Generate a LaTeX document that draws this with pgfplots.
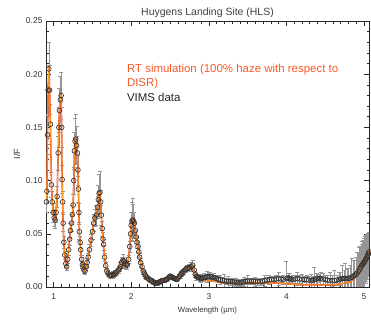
\documentclass[border=0pt]{standalone}
\usepackage{pgfplots}
\pgfplotsset{compat=1.18}
\usepackage{pgfplotstable}
\usepackage{fontspec}
\setmainfont{Liberation Sans}
\definecolor{rtred}{RGB}{245,90,40}
\definecolor{rtorange}{RGB}{250,160,40}
\definecolor{ebgray}{RGB}{150,150,150}

\pgfplotstableread{
wl if err
0.905 0.080 0.010
0.912 0.090 0.011
0.920 0.143 0.018
0.928 0.185 0.023
0.936 0.205 0.025
0.946 0.185 0.023
0.958 0.153 0.019
0.970 0.096 0.012
0.980 0.080 0.010
0.992 0.070 0.009
1.005 0.065 0.008
1.018 0.063 0.008
1.030 0.070 0.009
1.044 0.085 0.010
1.057 0.126 0.016
1.066 0.150 0.019
1.073 0.166 0.021
1.085 0.176 0.022
1.095 0.180 0.022
1.102 0.150 0.019
1.108 0.101 0.013
1.115 0.080 0.010
1.121 0.060 0.008
1.130 0.042 0.006
1.142 0.030 0.004
1.155 0.022 0.003
1.167 0.019 0.003
1.180 0.026 0.004
1.193 0.035 0.005
1.205 0.045 0.006
1.215 0.053 0.007
1.230 0.060 0.008
1.240 0.068 0.009
1.250 0.077 0.010
1.258 0.100 0.013
1.266 0.128 0.017
1.275 0.137 0.022
1.283 0.139 0.023
1.295 0.133 0.018
1.305 0.126 0.016
1.312 0.110 0.014
1.318 0.092 0.012
1.325 0.070 0.009
1.330 0.052 0.007
1.340 0.042 0.006
1.348 0.035 0.005
1.360 0.026 0.004
1.370 0.021 0.003
1.378 0.019 0.003
1.390 0.016 0.003
1.404 0.015 0.003
1.420 0.019 0.003
1.430 0.023 0.004
1.443 0.028 0.004
1.460 0.035 0.005
1.480 0.044 0.006
1.500 0.052 0.007
1.515 0.060 0.008
1.530 0.065 0.008
1.550 0.0675 0.009
1.565 0.075 0.010
1.575 0.082 0.014
1.585 0.088 0.018
1.595 0.089 0.020
1.605 0.080 0.011
1.614 0.0675 0.009
1.625 0.055 0.007
1.635 0.045 0.006
1.643 0.040 0.005
1.655 0.028 0.004
1.670 0.020 0.003
1.685 0.015 0.003
1.700 0.013 0.003
1.720 0.011 0.003
1.735 0.011 0.003
1.750 0.011 0.003
1.765 0.0115 0.003
1.780 0.012 0.003
1.795 0.013 0.003
1.810 0.014 0.003
1.835 0.016 0.003
1.848 0.0175 0.003
1.860 0.019 0.004
1.875 0.023 0.005
1.890 0.025 0.006
1.905 0.024 0.004
1.920 0.022 0.004
1.935 0.021 0.004
1.950 0.0206 0.004
1.965 0.026 0.004
1.980 0.038 0.005
1.990 0.050 0.007
1.998 0.058 0.012
2.008 0.062 0.018
2.017 0.063 0.020
2.028 0.062 0.016
2.040 0.060 0.010
2.052 0.053 0.007
2.065 0.047 0.006
2.075 0.042 0.006
2.086 0.038 0.005
2.097 0.033 0.005
2.107 0.028 0.004
2.120 0.023 0.004
2.138 0.019 0.003
2.155 0.015 0.003
2.168 0.013 0.003
2.180 0.011 0.003
2.195 0.0095 0.002
2.210 0.0085 0.002
2.228 0.0075 0.002
2.245 0.0066 0.002
2.262 0.0058 0.002
2.280 0.005 0.002
2.295 0.0042 0.002
2.310 0.0035 0.002
2.325 0.0037 0.002
2.340 0.004 0.002
2.355 0.0045 0.002
2.370 0.005 0.002
2.385 0.0055 0.002
2.400 0.006 0.002
2.420 0.0063 0.002
2.440 0.0066 0.002
2.455 0.0072 0.002
2.470 0.008 0.002
2.485 0.0092 0.002
2.500 0.0103 0.002
2.515 0.0097 0.002
2.530 0.009 0.002
2.545 0.0085 0.002
2.560 0.008 0.002
2.575 0.0075 0.002
2.590 0.007 0.002
2.605 0.0085 0.002
2.620 0.010 0.002
2.635 0.0115 0.003
2.650 0.0128 0.003
2.665 0.014 0.003
2.680 0.015 0.003
2.700 0.0165 0.003
2.720 0.0175 0.003
2.735 0.0178 0.003
2.750 0.018 0.003
2.770 0.019 0.004
2.790 0.0206 0.005
2.810 0.016 0.004
2.825 0.012 0.003
2.840 0.0097 0.003
2.855 0.0093 0.003
2.870 0.009 0.003
2.885 0.0085 0.003
2.900 0.008 0.004
2.920 0.0085 0.003
2.940 0.009 0.004
2.960 0.0093 0.003
2.980 0.0095 0.005
3.000 0.0096 0.003
3.020 0.0097 0.004
3.040 0.0093 0.003
3.060 0.009 0.004
3.080 0.0085 0.003
3.100 0.008 0.003
3.125 0.0072 0.003
3.150 0.0066 0.004
3.175 0.0063 0.003
3.200 0.006 0.006
3.225 0.0055 0.003
3.250 0.005 0.005
3.275 0.005 0.003
3.300 0.005 0.003
3.325 0.0048 0.003
3.350 0.0045 0.004
3.375 0.0042 0.003
3.400 0.004 0.003
3.425 0.0045 0.003
3.450 0.005 0.004
3.475 0.0052 0.003
3.500 0.0055 0.006
3.525 0.0056 0.003
3.550 0.0056 0.003
3.575 0.0053 0.003
3.600 0.005 0.004
3.630 0.005 0.003
3.660 0.005 0.003
3.690 0.0055 0.003
3.720 0.006 0.005
3.750 0.0065 0.003
3.780 0.007 0.004
3.810 0.007 0.003
3.840 0.007 0.003
3.870 0.0075 0.004
3.900 0.008 0.006
3.930 0.0075 0.003
3.960 0.007 0.004
4.000 0.008 0.016
4.020 0.0085 0.004
4.040 0.008 0.005
4.060 0.0075 0.003
4.080 0.007 0.004
4.110 0.0075 0.004
4.140 0.008 0.006
4.170 0.0075 0.004
4.200 0.007 0.005
4.230 0.007 0.003
4.260 0.007 0.004
4.290 0.0065 0.004
4.320 0.006 0.006
4.340 0.0065 0.004
4.360 0.007 0.012
4.380 0.0075 0.005
4.400 0.008 0.005
4.420 0.008 0.004
4.440 0.008 0.006
4.470 0.0075 0.005
4.500 0.007 0.004
4.530 0.0065 0.005
4.560 0.006 0.008
4.590 0.006 0.005
4.620 0.006 0.010
4.650 0.0065 0.005
4.680 0.007 0.007
4.700 0.0075 0.006
4.720 0.008 0.012
4.740 0.008 0.008
4.760 0.008 0.014
4.780 0.008 0.009
4.800 0.008 0.010
4.820 0.0085 0.012
4.840 0.009 0.018
4.860 0.010 0.015
4.880 0.011 0.014
4.895 0.012 0.016
4.910 0.013 0.020
4.925 0.0145 0.018
4.940 0.016 0.021
4.955 0.018 0.020
4.970 0.020 0.020
4.980 0.021 0.022
4.990 0.022 0.022
5.000 0.023 0.023
5.010 0.024 0.024
5.020 0.0255 0.022
5.030 0.027 0.022
5.040 0.0285 0.021
5.050 0.030 0.020
5.058 0.0315 0.019
5.065 0.033 0.018
}\vimsdata

\pgfplotstableread{
wl if
0.900 0.082
0.912 0.092
0.920 0.145
0.928 0.188
0.936 0.208
0.946 0.186
0.958 0.150
0.970 0.097
0.980 0.080
0.992 0.069
1.005 0.064
1.018 0.063
1.030 0.071
1.044 0.087
1.057 0.127
1.066 0.152
1.073 0.168
1.085 0.178
1.095 0.181
1.102 0.148
1.108 0.100
1.115 0.078
1.121 0.059
1.130 0.041
1.142 0.029
1.155 0.021
1.167 0.019
1.180 0.026
1.193 0.036
1.205 0.046
1.215 0.054
1.230 0.061
1.240 0.069
1.250 0.078
1.258 0.101
1.266 0.129
1.275 0.138
1.283 0.140
1.295 0.134
1.305 0.125
1.312 0.108
1.318 0.090
1.325 0.069
1.330 0.051
1.340 0.041
1.348 0.034
1.360 0.025
1.370 0.020
1.378 0.018
1.390 0.015
1.404 0.014
1.420 0.018
1.430 0.022
1.443 0.028
1.460 0.036
1.480 0.045
1.500 0.053
1.515 0.061
1.530 0.066
1.550 0.069
1.565 0.076
1.575 0.083
1.585 0.089
1.595 0.090
1.605 0.079
1.614 0.066
1.625 0.054
1.635 0.044
1.643 0.038
1.655 0.027
1.670 0.019
1.685 0.014
1.700 0.012
1.720 0.010
1.750 0.010
1.780 0.011
1.810 0.013
1.835 0.015
1.860 0.019
1.875 0.023
1.890 0.026
1.905 0.024
1.920 0.022
1.935 0.021
1.950 0.021
1.965 0.027
1.980 0.039
1.990 0.051
1.998 0.059
2.008 0.063
2.017 0.064
2.028 0.063
2.040 0.060
2.052 0.053
2.065 0.046
2.075 0.041
2.086 0.037
2.097 0.032
2.107 0.027
2.120 0.022
2.138 0.018
2.155 0.014
2.180 0.010
2.210 0.0075
2.245 0.0055
2.280 0.004
2.310 0.003
2.340 0.0035
2.370 0.0045
2.400 0.0055
2.440 0.006
2.470 0.0075
2.500 0.0095
2.530 0.0085
2.560 0.0075
2.590 0.0065
2.620 0.009
2.650 0.012
2.680 0.014
2.720 0.017
2.750 0.018
2.770 0.019
2.790 0.020
2.810 0.015
2.840 0.009
2.870 0.008
2.900 0.007
2.950 0.0065
3.000 0.006
3.100 0.005
3.200 0.004
3.300 0.0035
3.400 0.003
3.500 0.0035
3.600 0.004
3.700 0.004
3.800 0.004
3.900 0.0035
4.000 0.003
4.100 0.0025
4.200 0.002
4.300 0.002
4.400 0.002
4.500 0.002
4.600 0.002
4.700 0.003
4.800 0.004
4.860 0.007
4.900 0.010
4.940 0.015
4.980 0.021
5.020 0.027
5.050 0.032
5.080 0.036
}\rtmodel

\begin{document}
\begin{tikzpicture}
\begin{axis}[
  name=ax,
  scale only axis,
  width=323bp, height=266bp,
  xmin=0.9, xmax=5.065,
  ymin=0, ymax=0.25,
  xtick={1,2,3,4,5},
  ytick={0,0.05,0.10,0.15,0.20,0.25},
  minor x tick num=9,
  minor y tick num=4,
  tick align=inside,
  tick pos=both,
  major tick length=5bp,
  minor tick length=2.5bp,
  every tick/.style={black!85, line width=0.6pt},
  axis line style={black!85, line width=0.7pt},
  yticklabel style={/pgf/number format/fixed, /pgf/number format/fixed zerofill, /pgf/number format/precision=2},
  /pgf/number format/assume math mode=true,
  tick label style={font=\fontsize{8.5}{10}\selectfont, text=black!80},
  xticklabel style={yshift=-3bp},
  every axis title shift=0pt,
  title={Huygens Landing Site (HLS)},
  title style={font=\fontsize{10.5}{12}\selectfont, text=black!75, at={(0.5,1)}, anchor=south, yshift=0bp},
  xlabel={Wavelength (µm)},
  xlabel style={font=\fontsize{7.8}{9}\selectfont, text=black!80, yshift=-1bp},
  ylabel={I/F},
  ylabel style={font=\fontsize{9}{10}\selectfont, text=black!80, yshift=-1bp},
  clip=true,
]
% error bars of VIMS data
\addplot[draw=none, mark=none,
  error bars/.cd, y dir=both, y explicit,
  error bar style={ebgray, line width=0.5pt},
  error mark options={ebgray, mark size=2bp, line width=0.5pt, rotate=90}]
  table[x=wl, y=if, y error=err] {\vimsdata};
% RT simulation
\addplot[rtred, line width=1.6pt, mark=none] table[x=wl, y=if] {\rtmodel};
\addplot[rtorange, line width=0.7pt, mark=none] table[x=wl, y=if] {\rtmodel};
% VIMS data markers
\addplot[only marks, mark=o, mark size=2.4bp,
  mark options={draw=black!80, line width=0.65pt, fill=none}]
  table[x=wl, y=if] {\vimsdata};
\node[anchor=base west, text=rtred, font=\fontsize{11.5}{14}\selectfont, align=left]
  at (rel axis cs:0.24,0.805) {RT simulation (100\% haze with respect to};
\node[anchor=base west, text=rtred, font=\fontsize{11.5}{14}\selectfont]
  at (rel axis cs:0.24,0.752) {DISR)};
\node[anchor=base west, text=black!85, font=\fontsize{11.5}{14}\selectfont]
  at (rel axis cs:0.24,0.699) {VIMS data};
\end{axis}
\pgfresetboundingbox
\path[use as bounding box] ([shift={(-46bp,-33bp)}]ax.south west) rectangle ([shift={(2bp,21bp)}]ax.north east);
\end{tikzpicture}
\end{document}
